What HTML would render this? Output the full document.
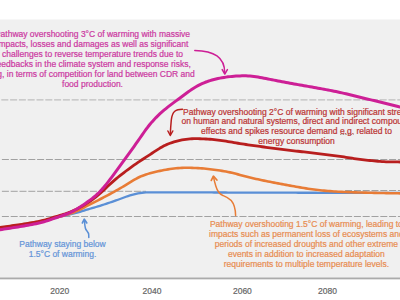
<!DOCTYPE html>
<html><head><meta charset="utf-8">
<style>
html,body{margin:0;padding:0;}
body{width:400px;height:300px;overflow:hidden;background:#fff;position:relative;font-family:"Liberation Sans",sans-serif;}
#panel{position:absolute;left:0;top:19px;width:400px;height:259px;background:linear-gradient(#f7f7f7 0,#f7f7f7 1px,#f0f0f0 1px);}
#axis{position:absolute;left:0;top:277px;width:400px;height:3px;background:linear-gradient(#cfcfcf 0,#cfcfcf 1px,#ababab 1px,#ababab 2px,#e2e2e2 2px);}
svg{position:absolute;left:0;top:0;}
.t{position:absolute;white-space:nowrap;text-align:center;font-size:8.5px;line-height:10px;height:10px;width:300px;-webkit-text-stroke:0.22px currentColor;}
.u{background:linear-gradient(90deg,#a08a80 60%,transparent 60%) 0 8.4px/1.6px 1px repeat-x;}
#wrap{position:absolute;left:0;top:0;width:400px;height:300px;}
.yr{position:absolute;font-size:8.5px;color:#666;-webkit-text-stroke:0.2px currentColor;line-height:10px;width:40px;text-align:center;}
</style></head><body>
<div id="wrap">
<div id="panel"></div>
<div id="axis"></div>
<svg width="400" height="300" viewBox="0 0 400 300">
<g stroke="#9c9c9c" stroke-width="0.95" stroke-dasharray="7 1.8" fill="none">
<line x1="1.3" y1="99.9" x2="400" y2="99.9" stroke="#b0b0b0"/>
<line x1="1.9" y1="159.5" x2="400" y2="159.5"/>
<line x1="1.9" y1="191.3" x2="146" y2="191.3"/>
<line x1="345.1" y1="190.5" x2="400" y2="190.5"/>
<line x1="1.9" y1="216.5" x2="400" y2="216.5"/>
</g>
<g fill="none" stroke-linecap="round" stroke-linejoin="round">
<path d="M-4.0 228.74 L-2.0 228.47 L0.0 228.19 L2.0 227.92 L4.0 227.63 L6.0 227.35 L8.0 227.06 L10.0 226.77 L12.0 226.48 L14.0 226.18 L16.0 225.88 L18.0 225.57 L20.0 225.26 L22.0 224.94 L24.0 224.61 L26.0 224.28 L28.0 223.94 L30.0 223.59 L32.0 223.23 L34.0 222.86 L36.0 222.48 L38.0 222.08 L40.0 221.67 L42.0 221.25 L44.0 220.80 L46.0 220.33 L48.0 219.84 L50.0 219.32 L52.0 218.80 L54.0 218.27 L56.0 217.75 L58.0 217.24 L60.0 216.74 L62.0 216.24 L64.0 215.76 L66.0 215.28 L68.0 214.82 L70.0 214.36 L72.0 213.90 L74.0 213.41 L76.0 212.89 L78.0 212.34 L80.0 211.77 L82.0 211.17 L84.0 210.57 L86.0 209.96 L88.0 209.36 L90.0 208.77 L92.0 208.18 L94.0 207.60 L96.0 207.00 L98.0 206.40 L100.0 205.78 L102.0 205.15 L104.0 204.50 L106.0 203.84 L108.0 203.17 L110.0 202.49 L112.0 201.81 L114.0 201.13 L116.0 200.43 L118.0 199.71 L120.0 198.97 L122.0 198.22 L124.0 197.48 L126.0 196.75 L128.0 196.05 L130.0 195.41 L132.0 194.82 L134.0 194.29 L136.0 193.82 L138.0 193.40 L140.0 193.03 L142.0 192.75 L144.0 192.56 L146.0 192.46 L148.0 192.42 L150.0 192.40 L152.0 192.40 L154.0 192.40 L156.0 192.40 L158.0 192.40 L160.0 192.40 L162.0 192.40 L164.0 192.40 L166.0 192.40 L168.0 192.40 L170.0 192.40 L172.0 192.40 L174.0 192.40 L176.0 192.40 L178.0 192.40 L180.0 192.40 L182.0 192.40 L184.0 192.41 L186.0 192.41 L188.0 192.41 L190.0 192.42 L192.0 192.42 L194.0 192.42 L196.0 192.43 L198.0 192.43 L200.0 192.44 L202.0 192.44 L204.0 192.45 L206.0 192.46 L208.0 192.46 L210.0 192.47 L212.0 192.47 L214.0 192.48 L216.0 192.49 L218.0 192.49 L220.0 192.50 L222.0 192.51 L224.0 192.52 L226.0 192.52 L228.0 192.53 L230.0 192.54 L232.0 192.54 L234.0 192.55 L236.0 192.56 L238.0 192.56 L240.0 192.57 L242.0 192.58 L244.0 192.58 L246.0 192.59 L248.0 192.59 L250.0 192.60 L252.0 192.61 L254.0 192.61 L256.0 192.62 L258.0 192.62 L260.0 192.63 L262.0 192.63 L264.0 192.64 L266.0 192.64 L268.0 192.65 L270.0 192.65 L272.0 192.66 L274.0 192.66 L276.0 192.67 L278.0 192.68 L280.0 192.68 L282.0 192.69 L284.0 192.69 L286.0 192.70 L288.0 192.70 L290.0 192.71 L292.0 192.71 L294.0 192.72 L296.0 192.72 L298.0 192.73 L300.0 192.73 L302.0 192.74 L304.0 192.74 L306.0 192.75 L308.0 192.75 L310.0 192.76 L312.0 192.76 L314.0 192.77 L316.0 192.77 L318.0 192.78 L320.0 192.78 L322.0 192.78 L324.0 192.79 L326.0 192.79 L328.0 192.80 L330.0 192.80 L332.0 192.80 L334.0 192.81 L336.0 192.81 L338.0 192.81 L340.0 192.82 L342.0 192.82 L344.0 192.82 L346.0 192.83 L348.0 192.83 L350.0 192.83 L352.0 192.84 L354.0 192.84 L356.0 192.84 L358.0 192.85 L360.0 192.85 L362.0 192.85 L364.0 192.85 L366.0 192.86 L368.0 192.86 L370.0 192.86 L372.0 192.86 L374.0 192.87 L376.0 192.87 L378.0 192.87 L380.0 192.87 L382.0 192.88 L384.0 192.88 L386.0 192.88 L388.0 192.88 L390.0 192.89 L392.0 192.89 L394.0 192.89 L396.0 192.89 L398.0 192.89 L400.0 192.90 L402.0 192.90 L404.0 192.90" stroke="#5a8fd6" stroke-width="2.3"/>
<path d="M-4.0 228.53 L-2.0 228.26 L0.0 227.99 L2.0 227.72 L4.0 227.44 L6.0 227.16 L8.0 226.88 L10.0 226.60 L12.0 226.31 L14.0 226.02 L16.0 225.72 L18.0 225.42 L20.0 225.12 L22.0 224.81 L24.0 224.49 L26.0 224.16 L28.0 223.82 L30.0 223.48 L32.0 223.12 L34.0 222.75 L36.0 222.37 L38.0 221.98 L40.0 221.56 L42.0 221.13 L44.0 220.68 L46.0 220.19 L48.0 219.69 L50.0 219.17 L52.0 218.63 L54.0 218.10 L56.0 217.56 L58.0 217.04 L60.0 216.51 L62.0 215.98 L64.0 215.43 L66.0 214.87 L68.0 214.27 L70.0 213.64 L72.0 212.96 L74.0 212.21 L76.0 211.40 L78.0 210.50 L80.0 209.54 L82.0 208.52 L84.0 207.48 L86.0 206.43 L88.0 205.39 L90.0 204.36 L92.0 203.35 L94.0 202.34 L96.0 201.32 L98.0 200.31 L100.0 199.28 L102.0 198.25 L104.0 197.20 L106.0 196.15 L108.0 195.09 L110.0 194.02 L112.0 192.94 L114.0 191.84 L116.0 190.73 L118.0 189.60 L120.0 188.44 L122.0 187.25 L124.0 186.04 L126.0 184.82 L128.0 183.58 L130.0 182.35 L132.0 181.13 L134.0 179.94 L136.0 178.80 L138.0 177.74 L140.0 176.78 L142.0 175.92 L144.0 175.17 L146.0 174.49 L148.0 173.88 L150.0 173.31 L152.0 172.78 L154.0 172.27 L156.0 171.79 L158.0 171.32 L160.0 170.87 L162.0 170.44 L164.0 170.04 L166.0 169.68 L168.0 169.35 L170.0 169.06 L172.0 168.79 L174.0 168.55 L176.0 168.33 L178.0 168.14 L180.0 167.99 L182.0 167.88 L184.0 167.81 L186.0 167.77 L188.0 167.78 L190.0 167.81 L192.0 167.87 L194.0 167.94 L196.0 168.02 L198.0 168.13 L200.0 168.24 L202.0 168.38 L204.0 168.55 L206.0 168.74 L208.0 168.95 L210.0 169.18 L212.0 169.43 L214.0 169.69 L216.0 169.96 L218.0 170.25 L220.0 170.55 L222.0 170.87 L224.0 171.21 L226.0 171.57 L228.0 171.96 L230.0 172.38 L232.0 172.83 L234.0 173.32 L236.0 173.84 L238.0 174.38 L240.0 174.92 L242.0 175.47 L244.0 176.00 L246.0 176.51 L248.0 177.02 L250.0 177.50 L252.0 177.98 L254.0 178.44 L256.0 178.90 L258.0 179.34 L260.0 179.78 L262.0 180.21 L264.0 180.62 L266.0 181.03 L268.0 181.44 L270.0 181.83 L272.0 182.22 L274.0 182.61 L276.0 182.99 L278.0 183.37 L280.0 183.75 L282.0 184.12 L284.0 184.50 L286.0 184.87 L288.0 185.24 L290.0 185.61 L292.0 185.98 L294.0 186.33 L296.0 186.69 L298.0 187.03 L300.0 187.37 L302.0 187.71 L304.0 188.03 L306.0 188.35 L308.0 188.66 L310.0 188.96 L312.0 189.25 L314.0 189.53 L316.0 189.80 L318.0 190.04 L320.0 190.26 L322.0 190.47 L324.0 190.66 L326.0 190.84 L328.0 191.00 L330.0 191.16 L332.0 191.30 L334.0 191.44 L336.0 191.56 L338.0 191.68 L340.0 191.78 L342.0 191.88 L344.0 191.97 L346.0 192.05 L348.0 192.12 L350.0 192.20 L352.0 192.26 L354.0 192.33 L356.0 192.39 L358.0 192.44 L360.0 192.50 L362.0 192.55 L364.0 192.60 L366.0 192.65 L368.0 192.70 L370.0 192.75 L372.0 192.80 L374.0 192.85 L376.0 192.89 L378.0 192.94 L380.0 192.98 L382.0 193.03 L384.0 193.07 L386.0 193.11 L388.0 193.14 L390.0 193.18 L392.0 193.21 L394.0 193.25 L396.0 193.28 L398.0 193.31 L400.0 193.33 L402.0 193.36 L404.0 193.39" stroke="#e87c36" stroke-width="2.6"/>
<path d="M-4.0 227.93 L-2.0 227.67 L0.0 227.39 L2.0 227.12 L4.0 226.85 L6.0 226.57 L8.0 226.30 L10.0 226.02 L12.0 225.74 L14.0 225.45 L16.0 225.16 L18.0 224.87 L20.0 224.57 L22.0 224.27 L24.0 223.96 L26.0 223.64 L28.0 223.32 L30.0 222.99 L32.0 222.65 L34.0 222.30 L36.0 221.94 L38.0 221.56 L40.0 221.15 L42.0 220.71 L44.0 220.23 L46.0 219.69 L48.0 219.10 L50.0 218.48 L52.0 217.84 L54.0 217.20 L56.0 216.59 L58.0 216.00 L60.0 215.41 L62.0 214.82 L64.0 214.21 L66.0 213.54 L68.0 212.83 L70.0 212.06 L72.0 211.23 L74.0 210.35 L76.0 209.41 L78.0 208.41 L80.0 207.35 L82.0 206.23 L84.0 205.07 L86.0 203.85 L88.0 202.57 L90.0 201.24 L92.0 199.86 L94.0 198.40 L96.0 196.87 L98.0 195.26 L100.0 193.55 L102.0 191.75 L104.0 189.88 L106.0 187.96 L108.0 186.05 L110.0 184.18 L112.0 182.37 L114.0 180.62 L116.0 178.92 L118.0 177.27 L120.0 175.66 L122.0 174.08 L124.0 172.53 L126.0 171.01 L128.0 169.52 L130.0 168.06 L132.0 166.62 L134.0 165.21 L136.0 163.82 L138.0 162.46 L140.0 161.12 L142.0 159.79 L144.0 158.48 L146.0 157.18 L148.0 155.87 L150.0 154.56 L152.0 153.24 L154.0 151.91 L156.0 150.59 L158.0 149.31 L160.0 148.07 L162.0 146.92 L164.0 145.86 L166.0 144.91 L168.0 144.05 L170.0 143.27 L172.0 142.57 L174.0 141.93 L176.0 141.36 L178.0 140.84 L180.0 140.38 L182.0 139.97 L184.0 139.60 L186.0 139.29 L188.0 139.03 L190.0 138.85 L192.0 138.74 L194.0 138.69 L196.0 138.68 L198.0 138.71 L200.0 138.76 L202.0 138.82 L204.0 138.90 L206.0 139.00 L208.0 139.12 L210.0 139.27 L212.0 139.44 L214.0 139.64 L216.0 139.86 L218.0 140.09 L220.0 140.34 L222.0 140.61 L224.0 140.89 L226.0 141.20 L228.0 141.53 L230.0 141.87 L232.0 142.22 L234.0 142.57 L236.0 142.91 L238.0 143.25 L240.0 143.58 L242.0 143.89 L244.0 144.20 L246.0 144.50 L248.0 144.79 L250.0 145.08 L252.0 145.37 L254.0 145.65 L256.0 145.93 L258.0 146.21 L260.0 146.48 L262.0 146.75 L264.0 147.01 L266.0 147.28 L268.0 147.54 L270.0 147.80 L272.0 148.06 L274.0 148.31 L276.0 148.57 L278.0 148.82 L280.0 149.07 L282.0 149.32 L284.0 149.57 L286.0 149.82 L288.0 150.06 L290.0 150.30 L292.0 150.54 L294.0 150.78 L296.0 151.02 L298.0 151.26 L300.0 151.50 L302.0 151.74 L304.0 151.98 L306.0 152.22 L308.0 152.46 L310.0 152.70 L312.0 152.94 L314.0 153.18 L316.0 153.41 L318.0 153.65 L320.0 153.88 L322.0 154.11 L324.0 154.34 L326.0 154.57 L328.0 154.81 L330.0 155.04 L332.0 155.28 L334.0 155.53 L336.0 155.79 L338.0 156.05 L340.0 156.34 L342.0 156.63 L344.0 156.94 L346.0 157.26 L348.0 157.58 L350.0 157.91 L352.0 158.22 L354.0 158.52 L356.0 158.81 L358.0 159.08 L360.0 159.34 L362.0 159.59 L364.0 159.83 L366.0 160.06 L368.0 160.28 L370.0 160.50 L372.0 160.71 L374.0 160.92 L376.0 161.12 L378.0 161.31 L380.0 161.47 L382.0 161.60 L384.0 161.70 L386.0 161.78 L388.0 161.83 L390.0 161.87 L392.0 161.90 L394.0 161.92 L396.0 161.95 L398.0 161.96 L400.0 161.98 L402.0 161.99 L404.0 162.00" stroke="#b81e1e" stroke-width="2.8"/>
<path d="M-4.0 230.30 L-2.0 230.00 L0.0 229.70 L2.0 229.40 L4.0 229.09 L6.0 228.79 L8.0 228.49 L10.0 228.19 L12.0 227.88 L14.0 227.57 L16.0 227.26 L18.0 226.95 L20.0 226.62 L22.0 226.29 L24.0 225.95 L26.0 225.60 L28.0 225.24 L30.0 224.87 L32.0 224.49 L34.0 224.09 L36.0 223.68 L38.0 223.24 L40.0 222.78 L42.0 222.27 L44.0 221.73 L46.0 221.14 L48.0 220.50 L50.0 219.82 L52.0 219.13 L54.0 218.44 L56.0 217.75 L58.0 217.08 L60.0 216.41 L62.0 215.73 L64.0 215.01 L66.0 214.24 L68.0 213.42 L70.0 212.53 L72.0 211.58 L74.0 210.55 L76.0 209.45 L78.0 208.28 L80.0 207.05 L82.0 205.75 L84.0 204.40 L86.0 203.01 L88.0 201.58 L90.0 200.10 L92.0 198.58 L94.0 196.98 L96.0 195.29 L98.0 193.46 L100.0 191.48 L102.0 189.34 L104.0 187.04 L106.0 184.60 L108.0 182.06 L110.0 179.45 L112.0 176.79 L114.0 174.10 L116.0 171.39 L118.0 168.66 L120.0 165.91 L122.0 163.15 L124.0 160.39 L126.0 157.63 L128.0 154.87 L130.0 152.10 L132.0 149.33 L134.0 146.53 L136.0 143.71 L138.0 140.86 L140.0 137.99 L142.0 135.11 L144.0 132.26 L146.0 129.47 L148.0 126.80 L150.0 124.27 L152.0 121.89 L154.0 119.67 L156.0 117.57 L158.0 115.59 L160.0 113.71 L162.0 111.92 L164.0 110.20 L166.0 108.55 L168.0 106.95 L170.0 105.39 L172.0 103.87 L174.0 102.38 L176.0 100.90 L178.0 99.43 L180.0 97.95 L182.0 96.47 L184.0 94.98 L186.0 93.50 L188.0 92.04 L190.0 90.61 L192.0 89.23 L194.0 87.93 L196.0 86.73 L198.0 85.62 L200.0 84.59 L202.0 83.66 L204.0 82.80 L206.0 82.02 L208.0 81.30 L210.0 80.65 L212.0 80.05 L214.0 79.51 L216.0 79.02 L218.0 78.56 L220.0 78.15 L222.0 77.78 L224.0 77.44 L226.0 77.13 L228.0 76.86 L230.0 76.63 L232.0 76.42 L234.0 76.25 L236.0 76.10 L238.0 75.98 L240.0 75.90 L242.0 75.85 L244.0 75.83 L246.0 75.86 L248.0 75.95 L250.0 76.08 L252.0 76.26 L254.0 76.49 L256.0 76.76 L258.0 77.07 L260.0 77.42 L262.0 77.80 L264.0 78.19 L266.0 78.58 L268.0 78.97 L270.0 79.36 L272.0 79.75 L274.0 80.14 L276.0 80.53 L278.0 80.91 L280.0 81.29 L282.0 81.67 L284.0 82.05 L286.0 82.42 L288.0 82.80 L290.0 83.17 L292.0 83.54 L294.0 83.90 L296.0 84.27 L298.0 84.63 L300.0 84.99 L302.0 85.35 L304.0 85.70 L306.0 86.05 L308.0 86.39 L310.0 86.74 L312.0 87.09 L314.0 87.44 L316.0 87.79 L318.0 88.15 L320.0 88.51 L322.0 88.88 L324.0 89.25 L326.0 89.62 L328.0 90.00 L330.0 90.38 L332.0 90.78 L334.0 91.18 L336.0 91.59 L338.0 92.01 L340.0 92.44 L342.0 92.89 L344.0 93.35 L346.0 93.82 L348.0 94.31 L350.0 94.80 L352.0 95.30 L354.0 95.80 L356.0 96.30 L358.0 96.79 L360.0 97.28 L362.0 97.76 L364.0 98.24 L366.0 98.71 L368.0 99.18 L370.0 99.65 L372.0 100.11 L374.0 100.58 L376.0 101.06 L378.0 101.53 L380.0 102.01 L382.0 102.50 L384.0 102.99 L386.0 103.49 L388.0 103.98 L390.0 104.48 L392.0 104.99 L394.0 105.49 L396.0 105.99 L398.0 106.50 L400.0 107.00 L402.0 107.50 L404.0 108.00" stroke="#cd1f96" stroke-width="3"/>
</g>
<g fill="none" stroke-width="1.5" stroke-linecap="round" stroke-linejoin="round">
<path d="M194.8 50.5 C214 51 224.8 57 224.7 73" stroke="#cd1f96"/>
<path d="M222.2 69.6 L224.8 74 L227.4 69.6" stroke="#cd1f96"/>
<path d="M182.5 109.2 C176 109.2 172.2 111 171.3 120 C170.8 125 170.5 130 170.3 134.5" stroke="#b81e1e"/>
<path d="M167.9 131 L170.3 135.5 L172.8 131" stroke="#b81e1e"/>
<path d="M235.6 215.5 C235.5 209 234.2 204 231.2 200.5 C228.5 197.5 225.5 196.5 222.5 195.3 C219 193.8 217 190 215.8 186 C214.8 182.5 214 179.5 213.5 176.8" stroke="#e87c36"/>
<path d="M211.3 180.4 L213.4 176.2 L216.9 180" stroke="#e87c36" stroke-width="1.7"/>
<path d="M88.8 237.5 L88.7 234.5 C88.6 231.5 86 230.8 85.4 228.3 C84.9 226.3 84.6 223.5 84.4 219.8" stroke="#5a8fd6"/>
<path d="M82.4 222.9 L84.3 219.2 L86.8 222.9" stroke="#5a8fd6" stroke-width="1.7"/>
</g>
</svg>
<div class="t" style="left:-57.50px;top:29.10px;color:#cc3aa2">Pathway overshooting 3°C of warming with massive</div>
<div class="t" style="left:-57.50px;top:39.10px;color:#cc3aa2">impacts, losses and damages as well as significant</div>
<div class="t" style="left:-57.50px;top:49.10px;color:#cc3aa2">challenges to reverse temperature trends due to</div>
<div class="t" style="left:-57.50px;top:59.10px;color:#cc3aa2">feedbacks in the climate system and response risks,</div>
<div class="t" style="left:-57.50px;top:69.10px;color:#cc3aa2">e.g, in terms of competition for land between CDR and</div>
<div class="t" style="left:-57.50px;top:79.10px;color:#cc3aa2">food production.</div>
<div class="t" style="left:146.50px;top:107.10px;color:#bb3636">Pathway overshooting 2°C of warming with significant stress</div>
<div class="t" style="left:146.50px;top:116.10px;color:#bb3636">on human and natural systems, direct and indirect compound</div>
<div class="t" style="left:146.50px;top:126.10px;color:#bb3636">effects and spikes resource demand <span class="u">e.g.</span> related to</div>
<div class="t" style="left:146.50px;top:136.10px;color:#bb3636">energy consumption</div>
<div class="t" style="left:156.40px;top:219.10px;color:#e88d52">Pathway overshooting 1.5°C of warming, leading to</div>
<div class="t" style="left:156.40px;top:229.10px;color:#e88d52">impacts such as permanent loss of ecosystems and</div>
<div class="t" style="left:156.40px;top:239.10px;color:#e88d52">periods of increased droughts and other extreme</div>
<div class="t" style="left:156.40px;top:249.10px;color:#e88d52">events in addition to increased adaptation</div>
<div class="t" style="left:156.40px;top:259.10px;color:#e88d52">requirements to multiple temperature levels.</div>
<div class="t" style="left:-87.50px;top:239.10px;color:#6595d8">Pathway staying below</div>
<div class="t" style="left:-87.50px;top:249.10px;color:#6595d8">1.5°C of warming.</div>
<div class="yr" style="left:39.7px;top:285.5px">2020</div>
<div class="yr" style="left:132px;top:285.5px">2040</div>
<div class="yr" style="left:222.4px;top:285.5px">2060</div>
<div class="yr" style="left:307.5px;top:285.5px">2080</div>
</div>
</body></html>
